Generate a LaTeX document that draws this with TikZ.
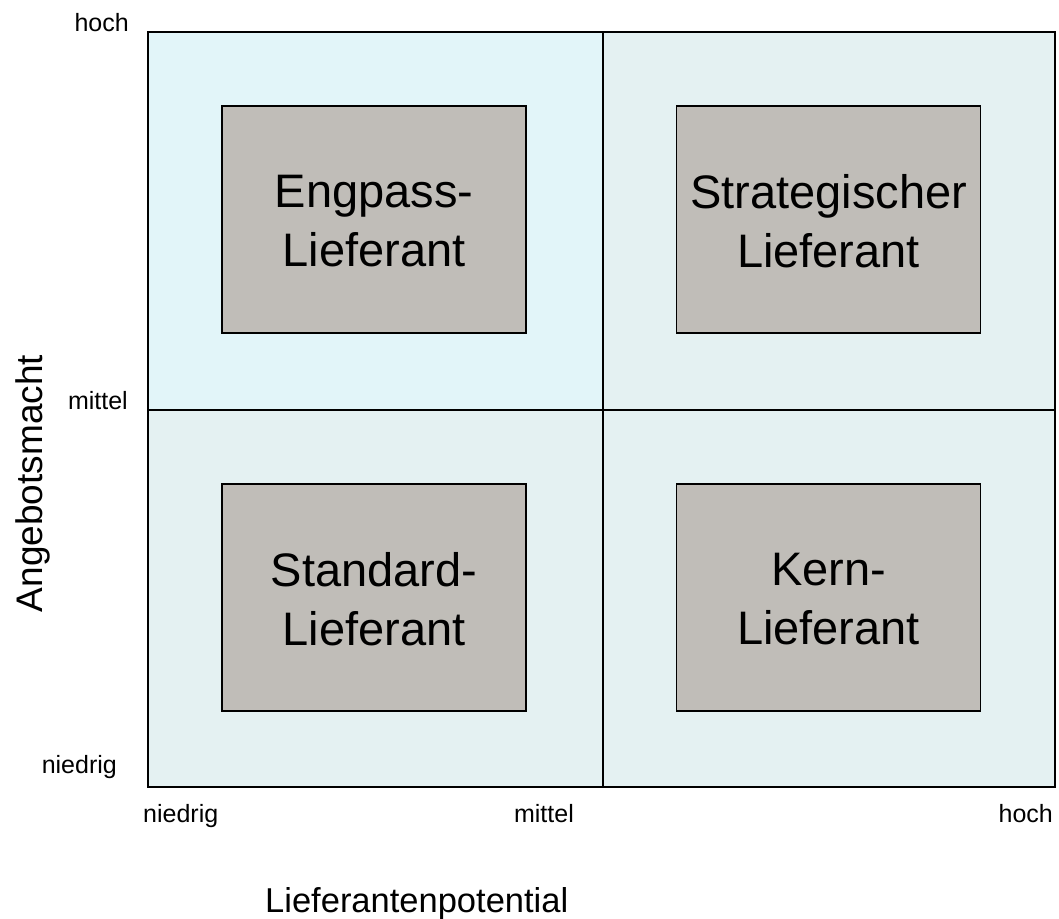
\documentclass[tikz,border=0pt]{standalone}
\usepackage{fontspec}
\setmainfont{Liberation Sans}
\usetikzlibrary{calc}
\definecolor{quadhi}{HTML}{E2F5F9}
\definecolor{quadlo}{HTML}{E4F1F2}
\definecolor{boxgray}{HTML}{C0BDB8}
\begin{document}
\begin{tikzpicture}[x=1pt,y=-1pt,
  quad/.style={draw=black, line width=1.8pt, inner sep=0pt, anchor=north west},
  typebox/.style={draw=black, line width=1.8pt, fill=boxgray, inner sep=0pt,
    minimum width=304pt, minimum height=227pt},
  typetext/.style={inner sep=0pt, align=center,
    font=\fontsize{47}{59}\selectfont},
  lbl/.style={inner sep=0pt, font=\fontsize{25}{30}\selectfont},
  axis/.style={inner sep=0pt, font=\fontsize{34.5}{40}\selectfont}]
\useasboundingbox (0,0) rectangle (1059,918);

% four quadrants of the matrix
\node[quad, fill=quadhi, minimum width=455pt, minimum height=378pt] (qtl) at (147,31) {};
\node[quad, fill=quadlo, minimum width=452pt, minimum height=378pt] (qtr) at (602,31) {};
\node[quad, fill=quadlo, minimum width=455pt, minimum height=377pt] (qbl) at (147,409) {};
\node[quad, fill=quadlo, minimum width=452pt, minimum height=377pt] (qbr) at (602,409) {};

% supplier types
\node[typebox] (engpass) at (374,219.5) {};
\node[typebox] (strat) at (828.5,219.5) {};
\node[typebox] (standard) at (374,597.5) {};
\node[typebox] (kern) at (828.5,597.5) {};
\node[typetext] (engpasstxt) at ($(engpass.center)+(0,2)$) {Engpass-\\Lieferant};
\node[typetext] (strattxt) at ($(strat.center)+(0,2)$) {Strategischer\\Lieferant};
\node[typetext] (standardtxt) at ($(standard.center)+(0,2)$) {Standard-\\Lieferant};
\node[typetext] (kerntxt) at ($(kern.center)+(0,2)$) {Kern-\\Lieferant};

% vertical scale
\node[lbl, anchor=base east] (yhoch) at (129,31) {hoch};
\node[lbl, anchor=base east] (ymittel) at (128,409) {mittel};
\node[lbl, anchor=base east] (yniedrig) at (117,773) {niedrig};

% horizontal scale
\node[lbl, anchor=base west] (xniedrig) at (143,822) {niedrig};
\node[lbl, anchor=base east] (xmittel) at (574,822) {mittel};
\node[lbl, anchor=base east] (xhoch) at (1053,822) {hoch};

% axis titles
\node[axis, font=\fontsize{37}{42}\selectfont, rotate=90, anchor=base] (ytitle) at (42,483.5) {Angebotsmacht};
\node[axis, anchor=base west] (xtitle) at (265,912) {Lieferantenpotential};
\end{tikzpicture}
\end{document}
